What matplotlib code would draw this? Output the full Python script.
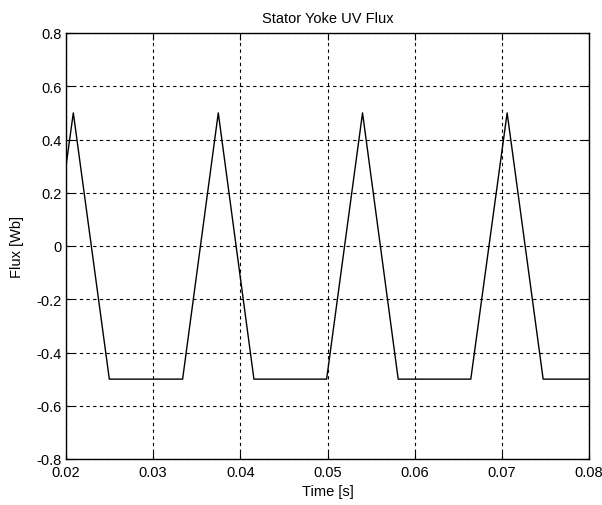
import matplotlib
matplotlib.use("Agg")
import matplotlib.pyplot as plt

# -----------------------------
# Data
# -----------------------------
time_s = [0.02, 0.02084, 0.02497, 0.03338, 0.03747, 0.04156,
          0.0499, 0.05402, 0.05811, 0.06644, 0.07061, 0.07474, 0.08]
flux_wb = [0.3, 0.5, -0.5, -0.5, 0.5, -0.5,
           -0.5, 0.5, -0.5, -0.5, 0.5, -0.5, -0.5]

x_ticks = [0.02, 0.03, 0.04, 0.05, 0.06, 0.07, 0.08]
x_labels = ["0.02", "0.03", "0.04", "0.05", "0.06", "0.07", "0.08"]
y_ticks = [-0.8, -0.6, -0.4, -0.2, 0, 0.2, 0.4, 0.6, 0.8]
y_labels = ["-0.8", "-0.6", "-0.4", "-0.2", "0", "0.2", "0.4", "0.6", "0.8"]

plt.rcParams['font.family'] = ['Liberation Sans', 'DejaVu Sans']

fig = plt.figure(figsize=(6.02, 5.06), dpi=100)
ax = fig.add_axes([66 / 602, 1 - 460 / 506, 523 / 602, 426 / 506])

ax.plot(time_s, flux_wb, color="black", linewidth=1.0)

ax.set_xlim(0.02, 0.08)
ax.set_ylim(-0.8, 0.8)
ax.set_xticks(x_ticks)
ax.set_xticklabels(x_labels)
ax.set_yticks(y_ticks)
ax.set_yticklabels(y_labels)
ax.tick_params(direction="in", length=5, width=0.8, labelsize=10.5,
               top=True, right=True)
ax.tick_params(axis="x", pad=4)
ax.tick_params(axis="y", pad=3)

ax.grid(True, color="black", linestyle=(0, (3, 3)), linewidth=0.8)
for s in ax.spines.values():
    s.set_linewidth(1.0)

ax.set_title("Stator Yoke UV Flux", fontsize=10.5, pad=8)
ax.set_xlabel("Time [s]", fontsize=10.5, labelpad=4)
ax.set_ylabel("Flux [Wb]", fontsize=10.5, labelpad=9)

fig.savefig("out.png", dpi=100)
